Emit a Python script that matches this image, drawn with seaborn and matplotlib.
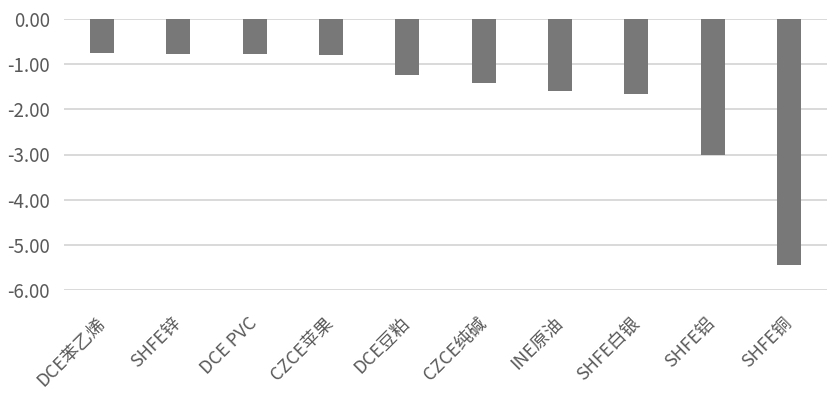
import seaborn as sns
import matplotlib.pyplot as plt
import pandas as pd

# 品种与数值
categories = ['DCE苯乙烯', 'SHFE锌', 'DCE PVC', 'CZCE苹果', 'DCE豆粕',
              'CZCE纯碱', 'INE原油', 'SHFE白银', 'SHFE铝', 'SHFE铜']
values = [-0.76, -0.78, -0.78, -0.80, -1.25, -1.42, -1.60, -1.65, -3.02, -5.45]
yticks = [0, -1, -2, -3, -4, -5, -6]

df = pd.DataFrame({'name': categories, 'value': values})

sns.set_style('white')
plt.rcParams['font.family'] = ['Noto Sans CJK SC', 'DejaVu Sans']

fig = plt.figure(figsize=(8.33, 3.97), dpi=100)
ax = fig.add_axes([64/833, 1-290/397, (827-64)/833, (290-19)/397])

ax.set_axisbelow(True)
for t in yticks:
    ax.axhline(t, color='#d0d0d0', lw=1.1, zorder=0)

sns.barplot(data=df, x='name', y='value', color='#787878', saturation=1,
            width=0.315, ax=ax, zorder=2, edgecolor='none', linewidth=0)

ax.set_ylim(-6, 0)
ax.set_yticks(yticks)
ax.set_yticklabels([f'{t:.2f}' for t in yticks], color='#595959', fontsize=13.5)
ax.set_xlim(-0.5, len(categories) - 0.5)
ax.set_xlabel('')
ax.set_ylabel('')
ax.tick_params(axis='both', length=0)
ax.tick_params(axis='y', pad=10)
ax.tick_params(axis='x', pad=22)
for lab in ax.get_xticklabels():
    lab.set_rotation(45)
    lab.set_ha('right')
    lab.set_va('center')
    lab.set_rotation_mode('anchor')
    lab.set_color('#595959')
    lab.set_fontsize(13)
sns.despine(ax=ax, left=True, bottom=True)

fig.savefig('out.png', dpi=100)
